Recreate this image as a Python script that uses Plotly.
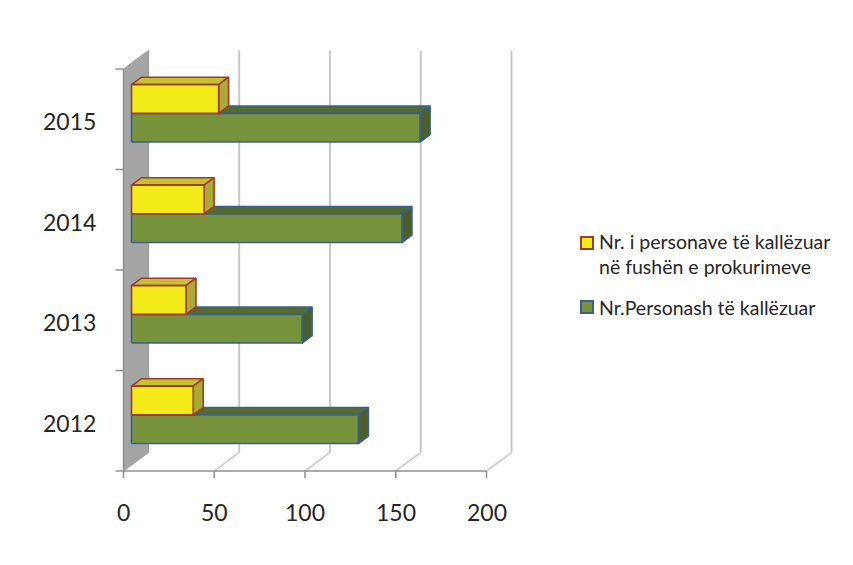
import plotly.graph_objects as go

# ---------------- data ----------------
years = ["2012", "2013", "2014", "2015"]
total_reported = [125, 94, 149, 159]          # Nr.Personash të kallëzuar
procurement_reported = [34, 30, 40, 48]       # Nr. i personave të kallëzuar në fushën e prokurimeve
x_tick_values = [0, 50, 100, 150, 200]
x_tick_labels = ["0", "50", "100", "150", "200"]
legend_labels = ["Nr. i personave të kallëzuar<br>në fushën e prokurimeve",
                 "Nr.Personash të kallëzuar"]

# ---------------- geometry (pixel calibration of the pseudo-3D view) ----------------
W, H = 853, 565
ORIGIN_PX, ORIGIN_PY = 123.5, 471.0   # front-plane origin
PX_PER_UNIT = 1.815                   # px per value unit
PX_PER_CAT = 100.5                    # px per category
DEPTH_X, DEPTH_Y = 25.0, 18.5          # px offset of back plane
DX = DEPTH_X / PX_PER_UNIT
DY = DEPTH_Y / PX_PER_CAT
Z_FRONT, Z_BACK = 0.32, 0.72           # depth of bar boxes
BAR_W = 1 / 3.5                       # gap width 150%

FONT = "Lato"
TEXT_COLOR = "#262626"
GRID = "#C3C3C3"
AXIS = "#8F8F8F"


def proj(v, c, z):
    return v + z * DX, c + z * DY


def to_x(px):
    return (px - ORIGIN_PX) / PX_PER_UNIT


def to_y(py):
    return (ORIGIN_PY - py) / PX_PER_CAT


fig = go.Figure()


def poly(points, fill, line, width=1.6):
    xs = [p[0] for p in points] + [points[0][0]]
    ys = [p[1] for p in points] + [points[0][1]]
    fig.add_trace(go.Scatter(x=xs, y=ys, mode="lines", fill="toself",
                             fillcolor=fill, line=dict(color=line, width=width),
                             hoverinfo="skip", showlegend=False))


def seg(x, y, color, width=1.5):
    fig.add_trace(go.Scatter(x=x, y=y, mode="lines", line=dict(color=color, width=width),
                             hoverinfo="skip", showlegend=False))


ncat = len(years)
vmax = x_tick_values[-1]

# left wall
wall = [proj(0, 0, 0), proj(0, ncat, 0), proj(0, ncat, 1), proj(0, 0, 1)]
poly(wall, "#A5A5A5", "#9A9A9A", 1)

# back gridlines and floor lines
for v in x_tick_values[1:]:
    bx0, by0 = proj(v, 0, 1)
    bx1, by1 = proj(v, ncat, 1)
    seg([bx0, bx1], [by0, by1], GRID, 1.8)
    fx, fy = proj(v, 0, 0)
    seg([fx, bx0], [fy, by0], GRID, 1.5)

# front axes
seg([0, vmax], [0, 0], AXIS, 1.5)
seg([0, 0], [0, ncat], AXIS, 1.5)
tick_dy = 7 / PX_PER_CAT
for v in x_tick_values:
    seg([v, v], [0, -tick_dy], AXIS, 1.5)
tick_dx = 8 / PX_PER_UNIT
for c in range(ncat + 1):
    seg([-tick_dx, 0], [c, c], AXIS, 1.5)


def box(v, c0, c1, front, top, side, edge):
    f0 = proj(0, c0, Z_FRONT)
    f1 = proj(v, c0, Z_FRONT)
    f2 = proj(v, c1, Z_FRONT)
    f3 = proj(0, c1, Z_FRONT)
    b1 = proj(v, c0, Z_BACK)
    b2 = proj(v, c1, Z_BACK)
    b3 = proj(0, c1, Z_BACK)
    poly([f3, f2, b2, b3], top, edge)
    poly([f1, b1, b2, f2], side, edge)
    poly([f0, f1, f2, f3], front, edge)


for i in range(ncat):
    mid = i + 0.5
    box(total_reported[i], mid - BAR_W, mid, "#77933C", "#556B2C", "#4B5F2B", "#3A5F8E")
    box(procurement_reported[i], mid, mid + BAR_W, "#F4EC18", "#C6C22E", "#ABAA35", "#A03A2C")

annotations = []
# category labels
for i, yr in enumerate(years):
    annotations.append(dict(x=to_x(98), y=i + 0.5, text=yr, showarrow=False,
                            xanchor="right", yanchor="middle", yshift=-2,
                            font=dict(family=FONT, size=23, color=TEXT_COLOR)))
# value labels
for v, lab in zip(x_tick_values, x_tick_labels):
    annotations.append(dict(x=v, y=to_y(512), text=lab, showarrow=False,
                            xanchor="center", yanchor="middle",
                            font=dict(family=FONT, size=23, color=TEXT_COLOR)))

# legend
legend_items = [
    (legend_labels[0], "#F4EC18", "#A03A2C", 243, (241.7 + 265.5) / 2),
    (legend_labels[1], "#77933C", "#3A5F8E", 307, 307),
]
for text, fill, edge, sq_py, txt_py in legend_items:
    fig.add_trace(go.Scatter(x=[to_x(587)], y=[to_y(sq_py)], mode="markers",
                             marker=dict(symbol="square", size=12, color=fill,
                                         line=dict(color=edge, width=2)),
                             hoverinfo="skip", showlegend=False, cliponaxis=False))
    annotations.append(dict(x=to_x(597), y=to_y(txt_py), text=text, showarrow=False,
                            xanchor="left", yanchor="middle", align="left",
                            font=dict(family=FONT, size=19.5, color=TEXT_COLOR)))

fig.update_layout(
    width=W, height=H, autosize=False,
    margin=dict(l=0, r=0, t=0, b=0),
    paper_bgcolor="white", plot_bgcolor="white",
    xaxis=dict(range=[to_x(0), to_x(W)], visible=False, fixedrange=True),
    yaxis=dict(range=[to_y(H), to_y(0)], visible=False, fixedrange=True),
    annotations=annotations,
    showlegend=False,
)

fig.write_html("out.html")
